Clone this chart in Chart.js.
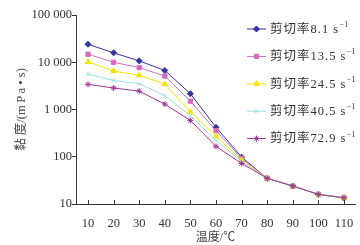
<!DOCTYPE html>
<html><head><meta charset="utf-8">
<script src="https://cdn.jsdelivr.net/npm/chart.js@4.4.1/dist/chart.umd.min.js"></script>
<style>html,body{margin:0;padding:0;background:#fff}#wrap{width:360px;height:245px}</style>
</head><body><div id="wrap"><canvas id="c" width="360" height="245"></canvas></div>
<script>
const temps = [10, 20, 30, 40, 50, 60, 70, 80, 90, 100, 110];
const seriesNames = ['剪切率8.1 s', '剪切率13.5 s', '剪切率24.5 s', '剪切率40.5 s', '剪切率72.9 s'];
const rate81  = [24000, 15800, 10700, 6700, 2150, 420, 98, 35, 24, 16, 13.5];
const rate135 = [14800, 10000, 7700, 5100, 1500, 357, 92, 35, 24, 16, 13.5];
const rate245 = [10200, 6500, 5300, 3450, 900, 270, 85, 35, 24, 16, 13.5];
const rate405 = [5600, 4100, 3500, 1950, 745, 220, 80, 35, 24, 16, 13.5];
const rate729 = [3400, 2850, 2450, 1300, 583, 166, 72, 35, 24, 16, 13.5];
const yTicks = [10, 100, 1000, 10000, 100000];
const yTickLabels = ['10', '100', '1 000', '10 000', '100 000'];
const xTitle = '温度/℃';
const yTitle = '黏 度/(m\u2009P\u2009a • s)';

const colors = ['#34349c', '#d46cbe', '#f2e400', '#9adede', '#9a3597'];
const markers = ['rectRot', 'rect', 'triangle', 'crossRot', 'star'];
const radii = [3, 3, 3.2, 3, 3];
const allSeries = [rate81, rate135, rate245, rate405, rate729];
const FONT = "'Liberation Serif', 'Noto Sans CJK SC', serif";

const datasets = allSeries.map((vals, i) => ({
  label: seriesNames[i],
  data: temps.map((t, k) => ({x: t, y: vals[k]})),
  borderColor: colors[i],
  backgroundColor: colors[i],
  pointStyle: markers[i],
  pointRadius: radii[i],
  pointBorderWidth: 1,
  borderWidth: 1,
  tension: 0,
  order: 5 - i
}));

const legendPlugin = {
  id: 'customLegend',
  afterDraw(chart) {
    const ctx = chart.ctx;
    ctx.save();
    chart.data.datasets.forEach((ds, i) => {
      const y = 29 + 27.4 * i;
      ctx.strokeStyle = ds.borderColor;
      ctx.fillStyle = ds.backgroundColor;
      ctx.lineWidth = 1;
      ctx.beginPath(); ctx.moveTo(247, y); ctx.lineTo(266, y); ctx.stroke();
      Chart.helpers.drawPoint(ctx, {pointStyle: ds.pointStyle, radius: ds.pointRadius, borderWidth: 1, rotation: 0}, 256.5, y);
      ctx.fillStyle = '#333';
      ctx.textBaseline = 'middle';
      ctx.textAlign = 'left';
      ctx.font = "12.5px " + FONT;
      ctx.letterSpacing = '1px';
      ctx.fillText(ds.label, 270, y + 0.5);
      const w = ctx.measureText(ds.label).width;
      ctx.font = "8px " + FONT;
      ctx.letterSpacing = '0px';
      ctx.fillText('\u22121', 270 + w + 0.5, y - 4);
    });
    ctx.restore();
  }
};

const xTickPlugin = {
  id: 'inwardXTicks',
  afterDraw(chart) {
    const xs = chart.scales.x, ctx = chart.ctx;
    const b = chart.chartArea.bottom;
    ctx.save();
    ctx.strokeStyle = '#333';
    ctx.lineWidth = 1;
    xs.ticks.forEach(t => {
      const px = Math.round(xs.getPixelForValue(t.value)) + 0.5;
      ctx.beginPath(); ctx.moveTo(px, b); ctx.lineTo(px, b - 4); ctx.stroke();
    });
    ctx.restore();
  }
};

new Chart(document.getElementById('c'), {
  type: 'line',
  data: {datasets},
  options: {
    responsive: false,
    animation: false,
    devicePixelRatio: 1,
    layout: {padding: {top: 15, right: 5, left: 0, bottom: 0}},
    plugins: {legend: {display: false}, tooltip: {enabled: false}},
    scales: {
      x: {
        type: 'linear',
        min: 5.3,
        max: 114.3,
        afterBuildTicks: s => { s.ticks = temps.map(v => ({value: v})); },
        afterFit: s => { s.height = 41; },
        grid: {display: false},
        border: {display: true, color: '#333', width: 1},
        ticks: {color: '#333', font: {family: FONT, size: 12.5}, padding: 4, maxRotation: 0, autoSkip: false,
          callback: v => String(v)},
        title: {display: true, text: xTitle, color: '#444', font: {family: FONT, size: 12}, padding: {top: 1, bottom: 0}}
      },
      y: {
        type: 'logarithmic',
        min: 10,
        max: 100000,
        afterBuildTicks: s => { s.ticks = yTicks.map(v => ({value: v})); },
        afterFit: s => { s.width = 76; },
        grid: {display: true, drawOnChartArea: false, drawTicks: true, tickLength: 4, color: '#333'},
        border: {display: true, color: '#333', width: 1},
        ticks: {color: '#333', font: {family: FONT, size: 12.5}, padding: 0, autoSkip: false,
          callback: (v) => { const k = yTicks.indexOf(v); return k >= 0 ? yTickLabels[k] : ''; }},
        title: {display: true, text: yTitle, color: '#444', font: {family: FONT, size: 12.5}, padding: {top: 14, bottom: 0}}
      }
    }
  },
  plugins: [legendPlugin, xTickPlugin]
});
</script>
</body></html>
